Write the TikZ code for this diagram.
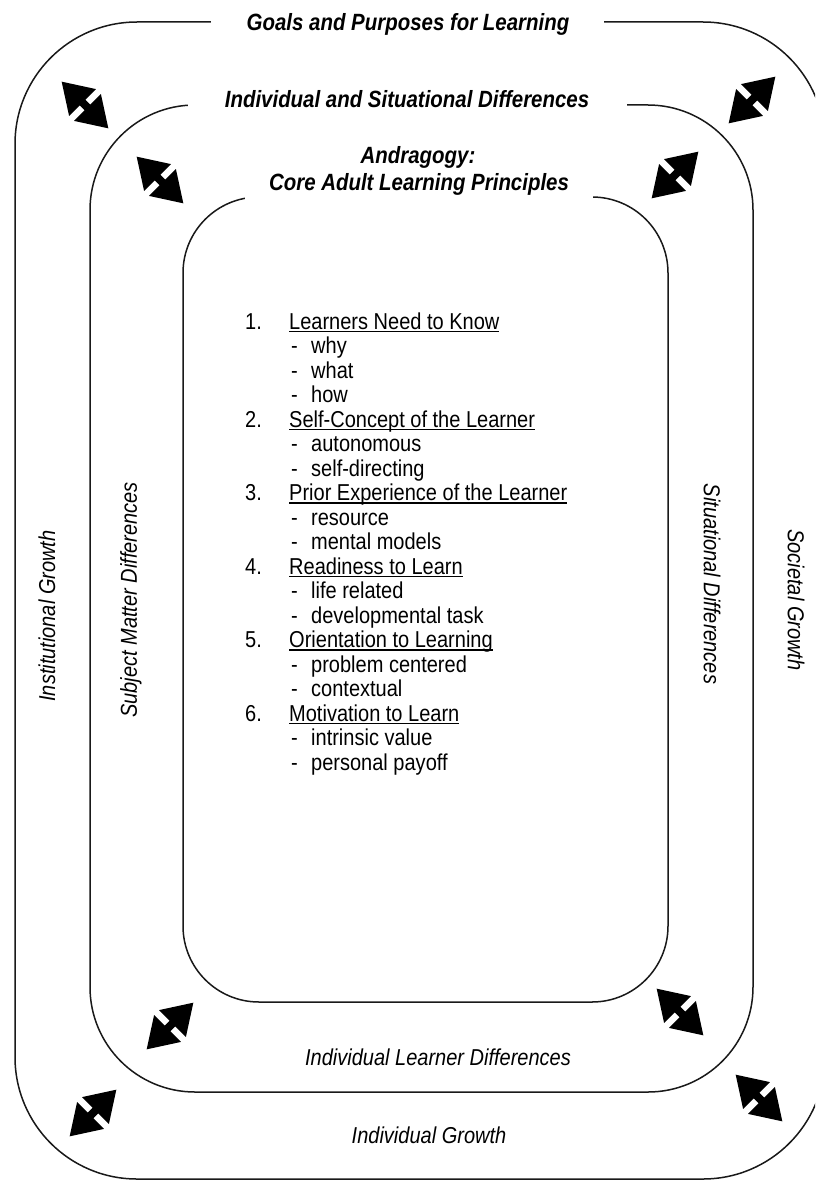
\documentclass[tikz,border=0pt]{standalone}
\usepackage{fontspec}
\setmainfont{Liberation Sans}[FakeStretch=0.87]
\newcommand\myul[1]{\setbox0\hbox{#1}\rlap{\rule[-3pt]{\wd0}{1.2pt}}\box0}
\tikzset{
  frame/.style={line width=1.5pt, draw=black!90},
  mask/.style={fill=white},
  title/.style={font=\bfseries\itshape\fontsize{23.5}{26}\selectfont, anchor=base, inner sep=0pt},
  lab/.style={font=\itshape\fontsize{23}{26}\selectfont, inner sep=0pt},
  item/.style={font=\fontsize{23}{24.5}\selectfont, anchor=base west, inner sep=0pt},
  dbl/.pic={\fill[black] (-33,0) -- (-3.5,-19) -- (-3.5,-4) -- (3.5,-4) -- (3.5,-19) -- (33,0)
      -- (3.5,19) -- (3.5,4) -- (-3.5,4) -- (-3.5,19) -- cycle;}
}
\begin{document}
\begin{tikzpicture}[x=1pt,y=-1pt]
\useasboundingbox (0,0) rectangle (815,1180);
\clip (0,0) rectangle (815,1180);
\fill[white] (0,0) rectangle (815,1180);
% frames
\draw[frame, rounded corners=122pt] (15,22) rectangle (825,1179);
\draw[frame, rounded corners=105pt] (90,105) rectangle (753,1092);
\draw[frame, rounded corners=76pt] (183,197) rectangle (668,1002);
% gaps for titles
\fill[mask] (211,14) rectangle (604,30);
\fill[mask] (188,97) rectangle (627,113);
\fill[mask] (245,189) rectangle (593,205);
% titles
\node[title] (t1) at (408,31) {Goals and Purposes for Learning};
\node[title] (t2) at (407,108) {Individual and Situational Differences};
\node[title] (t3) at (418,163) {Andragogy:};
\node[title] (t4) at (419,190) {Core Adult Learning Principles};
% side labels
\node[lab, rotate=90] (l1) at (47,616) {Institutional Growth};
\node[lab, rotate=90] (l2) at (131,600) {Subject Matter Differences};
\node[lab, rotate=-90] (l3) at (712,584) {Situational Differences};
\node[lab, rotate=-90] (l4) at (796,600) {Societal Growth};
\node[lab] (l5) at (438,1057) {Individual Learner Differences};
\node[lab] (l6) at (429,1135) {Individual Growth};
% arrows
\pic[rotate=-45] (a1) at (85,105) {dbl};
\pic[rotate=-45] (a2) at (160,180) {dbl};
\pic[rotate=45] (a3) at (752,100) {dbl};
\pic[rotate=45] (a4) at (675,175) {dbl};
\pic[rotate=45] (a5) at (170,1026) {dbl};
\pic[rotate=45] (a6) at (93,1113) {dbl};
\pic[rotate=-45] (a7) at (680,1012) {dbl};
\pic[rotate=-45] (a8) at (759,1098) {dbl};
% list
\foreach \n/\i/\t in {1/0/Learners Need to Know, 2/4/Self-Concept of the Learner,
  3/7/Prior Experience of the Learner, 4/10/Readiness to Learn,
  5/13/Orientation to Learning, 6/16/Motivation to Learn}{
  \node[item] (n\n) at (245,329+24.5*\i) {\n.};
  \node[item] (h\n) at (289,329+24.5*\i) {\myul{\t}};
}
\foreach \i/\t in {1/why, 2/what, 3/how, 5/autonomous, 6/self-directing,
  8/resource, 9/mental models, 11/life related, 12/developmental task,
  14/problem centered, 15/contextual, 17/intrinsic value, 18/personal payoff}{
  \node[item] (s\i) at (291,329+24.5*\i) {\makebox[20pt][l]{-}\t};
}
\end{tikzpicture}
\end{document}
